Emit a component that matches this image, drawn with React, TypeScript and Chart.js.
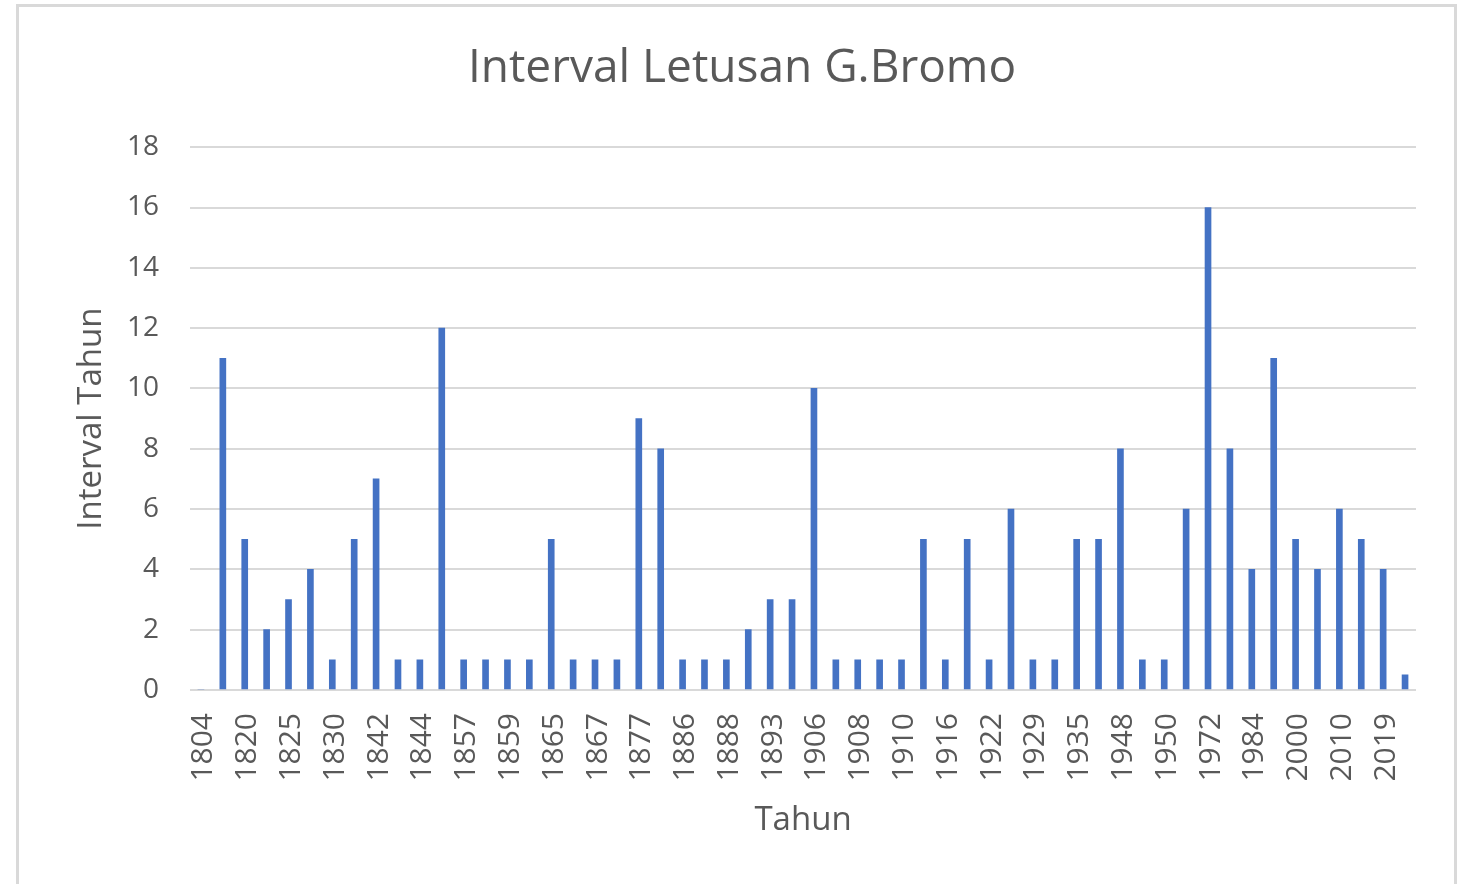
import React, { useEffect, useRef } from "react";
import { Chart, registerables } from "chart.js";

Chart.register(...registerables);

const years: string[] = [
  "1804", "1815", "1820", "1822", "1825", "1829", "1830", "1835", "1842", "1843",
  "1844", "1856", "1857", "1858", "1859", "1860", "1865", "1866", "1867", "1868",
  "1877", "1885", "1886", "1887", "1888", "1890", "1893", "1896", "1906", "1907",
  "1908", "1909", "1910", "1915", "1916", "1921", "1922", "1928", "1929", "1930",
  "1935", "1940", "1948", "1949", "1950", "1956", "1972", "1980", "1984", "1995",
  "2000", "2004", "2010", "2015", "2019", "2020",
];

const intervals: number[] = [
  0, 11, 5, 2, 3, 4, 1, 5, 7, 1,
  1, 12, 1, 1, 1, 1, 5, 1, 1, 1,
  9, 8, 1, 1, 1, 2, 3, 3, 10, 1,
  1, 1, 1, 5, 1, 5, 1, 6, 1, 1,
  5, 5, 8, 1, 1, 6, 16, 8, 4, 11,
  5, 4, 6, 5, 4, 0.5,
];

const yTicks: number[] = [0, 2, 4, 6, 8, 10, 12, 14, 16, 18];

const TEXT = "#595959";
const GRID = "#d9d9d9";
const BAR = "#4472C4";
const FONT = "'Open Sans', sans-serif";

export default function App() {
  const ref = useRef<HTMLCanvasElement | null>(null);

  useEffect(() => {
    document.body.style.margin = "0";
    document.body.style.overflow = "hidden";
    const canvas = ref.current;
    if (!canvas) return;
    const chart = new Chart(canvas, {
      type: "bar",
      data: {
        labels: years,
        datasets: [
          {
            label: "Interval",
            data: intervals,
            backgroundColor: BAR,
            borderWidth: 0,
            barThickness: 6,
          },
        ],
      },
      options: {
        animation: false,
        responsive: false,
        maintainAspectRatio: false,
        layout: { padding: { left: 49, right: 38, top: 0, bottom: 40 } },
        plugins: {
          legend: { display: false },
          tooltip: { enabled: false },
          title: {
            display: true,
            text: "Interval Letusan G.Bromo",
            color: TEXT,
            font: { family: FONT, size: 46, weight: "normal" },
            padding: { top: 34, bottom: 51 },
          },
        },
        scales: {
          x: {
            grid: { display: false, drawTicks: false },
            border: { display: false },
            ticks: {
              color: TEXT,
              font: { family: FONT, size: 30 },
              autoSkip: false,
              minRotation: 90,
              maxRotation: 90,
              padding: 23,
              labelOffset: 3,
              callback: (_v: any, i: number) => (i % 2 === 0 ? years[i] : ""),
            },
            title: {
              display: true,
              text: "Tahun",
              color: TEXT,
              font: { family: FONT, size: 33 },
            },
            afterFit: (scale: any) => {
              scale.height = 154;
              scale.paddingLeft = 0;
              scale.paddingRight = 0;
            },
          },
          y: {
            min: 0,
            max: 18,
            afterBuildTicks: (scale: any) => {
              scale.ticks = yTicks.map((v) => ({ value: v }));
            },
            grid: { color: GRID, lineWidth: 2, drawTicks: false },
            border: { display: false },
            ticks: {
              color: TEXT,
              font: { family: FONT, size: 28 },
              padding: 31,
            },
            title: {
              display: true,
              text: "Interval Tahun",
              color: TEXT,
              font: { family: FONT, size: 33 },
            },
            afterFit: (scale: any) => {
              scale.width = 122;
              scale.paddingTop = 0;
              scale.paddingBottom = 0;
            },
          },
        },
      },
    });
    return () => chart.destroy();
  }, []);

  return (
    <div
      style={{
        position: "absolute",
        left: 16,
        top: 4,
        width: 1441,
        height: 880,
        boxSizing: "border-box",
        border: `3px solid ${GRID}`,
        borderBottom: "none",
        background: "#fff",
      }}
    >
      <canvas
        ref={ref}
        width={1435}
        height={877}
        style={{ position: "absolute", left: 0, top: 0, width: 1435, height: 877 }}
      />
    </div>
  );
}
